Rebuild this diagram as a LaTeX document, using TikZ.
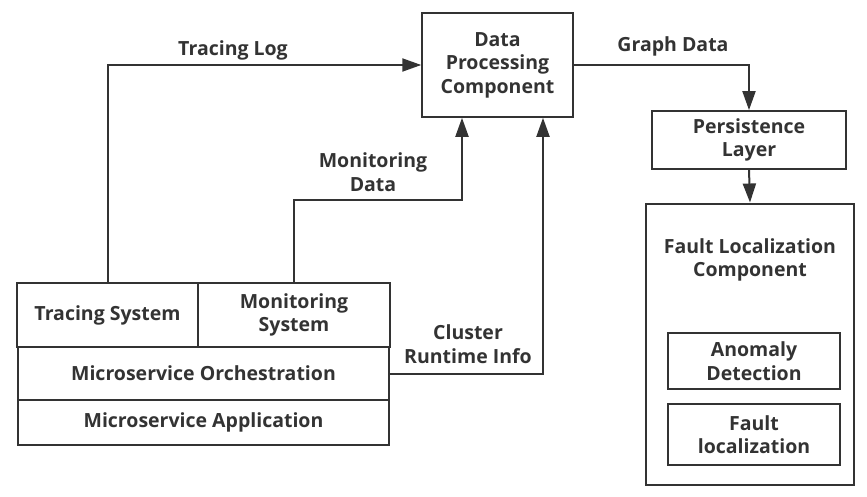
\documentclass[tikz,border=0pt]{standalone}
\usepackage{fontspec}
\setmainfont{Open Sans}[BoldFont={* Bold}]
\usetikzlibrary{arrows.meta, positioning}
\definecolor{inkgray}{RGB}{51, 51, 51}

\tikzset{
  box/.style={draw=inkgray, line width=2bp, text=inkgray, align=center,
    inner sep=0pt, font=\fontsize{19.5bp}{23.5bp}\selectfont\bfseries},
  flow/.style={draw=inkgray, line width=2bp, -{Triangle[length=19bp, width=13bp]}},
  lbl/.style={text=inkgray, align=center, font=\fontsize{19.5bp}{23.5bp}\selectfont\bfseries}
}

\begin{document}
\begin{tikzpicture}[x=1bp, y=1bp]
  \useasboundingbox (0,0) rectangle (867,-497);

  % ── Left stack ───────────────────────────────────────────────
  \node[box, minimum width=181, minimum height=64] (tracing) at (107.5,-315) {Tracing System};
  \node[box, minimum width=192, minimum height=64] (monitor) at (294,-315) {Monitoring\\System};
  \node[box, minimum width=373, minimum height=53] (orch) at (203.5,-373.5) {Microservice Orchestration};
  \node[box, minimum width=373, minimum height=45] (app) at (203.5,-422.5) {Microservice Application};

  % ── Data processing ──────────────────────────────────────────
  \node[box, minimum width=151, minimum height=104] (dpc) at (497.5,-65) {Data\\Processing\\Component};

  % ── Right column ─────────────────────────────────────────────
  \node[box, minimum width=194, minimum height=58] (persist) at (749,-140) {Persistence\\Layer};
  \node[box, minimum width=208, minimum height=283] (flc) at (750,-344.5) {};
  \node[lbl] (flctitle) at (750,-260) {Fault Localization\\Component};
  \node[box, minimum width=172, minimum height=56] (anomaly) at (754,-361) {Anomaly\\Detection};
  \node[box, minimum width=172, minimum height=61] (faultloc) at (754,-434.5) {Fault\\localization};

  % ── Connectors ───────────────────────────────────────────────
  \coordinate (mbend) at (462,-200);
  \coordinate (cbend) at (543,-373.5);
  \draw[flow] (tracing.north) |- (dpc.west);
  \draw[flow] (monitor.north) |- (mbend) -- (mbend |- dpc.south);
  \draw[flow] (orch.east) -- (cbend) -- (cbend |- dpc.south);
  \draw[flow] (dpc.east) -| (persist.north);
  \draw[flow] (persist.south) -- (flc.north);

  % ── Labels ───────────────────────────────────────────────────
  \node[lbl] (tlog) at (233,-50) {Tracing Log};
  \node[lbl] (mdata) at (373,-172) {Monitoring\\Data};
  \node[lbl] (cinfo) at (468,-344) {Cluster\\Runtime Info};
  \node[lbl] (gdata) at (673,-46) {Graph Data};
\end{tikzpicture}
\end{document}
